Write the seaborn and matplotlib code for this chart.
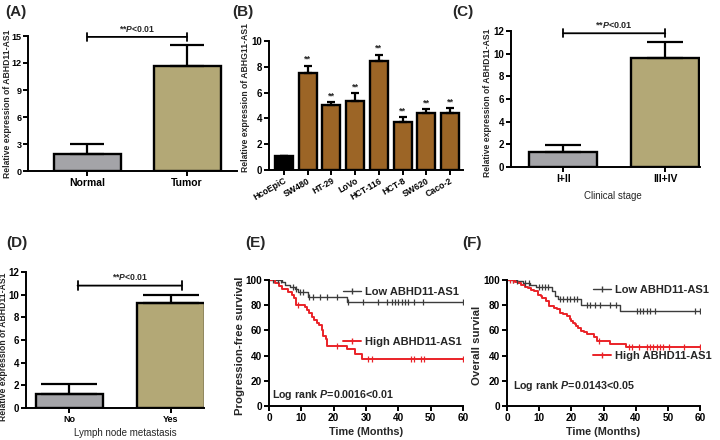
import numpy as np
import pandas as pd
import matplotlib
matplotlib.use("Agg")
import matplotlib.pyplot as plt
import seaborn as sns
from matplotlib.lines import Line2D

# ------------------------------
# Data
# ------------------------------
tissue = ["Normal", "Tumor"]
tissue_mean = [1.9, 11.7]
tissue_sd = [1.05, 2.3]

cell_lines = ["HcoEpiC", "SW480", "HT-29", "LoVo", "HCT-116", "HCT-8", "SW620", "Caco-2"]
cell_mean = [1.05, 7.5, 5.05, 5.35, 8.45, 3.7, 4.45, 4.45]
cell_sd = [0.07, 0.6, 0.2, 0.6, 0.5, 0.4, 0.25, 0.35]

stage = ["I+II", "III+IV"]
stage_mean = [1.35, 9.65]
stage_sd = [0.6, 1.35]

lymph = ["No", "Yes"]
lymph_mean = [1.25, 9.25]
lymph_sd = [0.85, 0.7]

# Kaplan-Meier step points (time in months, survival %)
pfs_low_t = [0, 4, 5, 6.5, 8, 9, 12, 24, 60]
pfs_low_s = [100, 98.2, 96.4, 94.6, 92.8, 90.2, 86.2, 82.2, 82.2]
pfs_low_cens = [1.2, 2.8, 3.6, 7.4, 8.5, 9.5, 10.5, 12.5, 13.6, 15.7, 17.8, 20.9,
                24.5, 29, 33.8, 36.4, 38, 39, 40, 41, 42, 43, 44.7, 47.6, 60]

pfs_high_t = [0, 2, 3, 4, 6, 7, 7.8, 8.2, 11.1, 11.9, 12.5, 13.2, 14, 14.7, 15.5,
              16.3, 16.8, 17.5, 18, 24, 26.6, 28.7, 60]
pfs_high_s = [100, 97.5, 95, 92.5, 90.5, 88, 85.5, 80, 78.5, 76, 73.5, 71, 68, 66, 64,
              60, 55.5, 53.5, 47.8, 45, 41.5, 37.2, 37.2]
pfs_high_cens = [9, 20.9, 30.7, 32, 43.8, 44.8, 46.9, 48, 60]

os_low_t = [0, 3, 5, 7, 9, 14, 15, 16, 23, 35, 60]
os_low_s = [100, 99, 97.8, 96.4, 94.5, 91, 87.5, 84.9, 80.2, 75.7, 75.7]
os_low_cens = [2, 3.1, 5.7, 6.7, 9.8, 10.9, 11.9, 12.9, 16.5, 17.5, 18.6, 19.6, 20.7, 21.7,
               24.8, 25.9, 27.4, 29, 32, 34, 40.3, 41.4, 42.4, 43.4, 44.5, 46, 58.4, 60]

os_high_t = [0, 2.5, 3.5, 4.5, 5.5, 6.5, 7.5, 8.5, 9.5, 10.5, 11, 12, 13, 14.5, 15.5, 16.5,
             17.5, 18.5, 19.5, 20, 20.5, 21, 21.5, 22, 23, 24, 25, 27, 28, 32, 37, 60]
os_high_s = [100, 98.7, 97.4, 96.1, 94.8, 93.5, 92.2, 90.9, 88.3, 87, 85.7, 83.1, 79.2,
             77.9, 76.6, 74, 72.7, 71.4, 68.8, 67.5, 66.2, 64.9, 63.6, 62.3, 59.7, 58.4,
             57.1, 54.5, 51.9, 49.3, 47, 47]
os_high_cens = [1, 2, 28.5, 38, 39, 41, 43.5, 44.5, 45.5, 46.5, 47.5, 48.5, 50.5, 55, 60]

# colours
GRAY = "#a4a4a8"
TAN = "#b3a876"
BROWN = "#9c6526"
LOW_C = "#3c3c3c"
HIGH_C = "#ea2228"

# ------------------------------
# Style
# ------------------------------
sns.set_style("ticks")
plt.rcParams["font.family"] = ["Liberation Sans", "DejaVu Sans"]
plt.rcParams["font.weight"] = "bold"
plt.rcParams["mathtext.fontset"] = "custom"
plt.rcParams["mathtext.it"] = "Liberation Sans:italic:bold"
plt.rcParams["mathtext.rm"] = "Liberation Sans:bold"

W, H = 720, 440
fig = plt.figure(figsize=(7.2, 4.4), dpi=100)


def px_axes(l, t, r, b):
    return fig.add_axes([l / W, 1 - b / H, (r - l) / W, (b - t) / H])


def style_axes(ax, size=7):
    sns.despine(ax=ax)
    for sp in ["left", "bottom"]:
        ax.spines[sp].set_linewidth(1.4)
        ax.spines[sp].set_color("black")
    ax.tick_params(width=1.4, length=3.5, labelsize=size, colors="black", pad=1.5)


def bar_panel(ax, cats, means, sds, colors, width, capsize, ylim, yticks, xlim):
    df = pd.DataFrame({"cat": cats, "val": means})
    sns.barplot(data=df, x="cat", y="val", hue="cat", palette=colors, legend=False,
                width=width, saturation=1, edgecolor="black", linewidth=1.7, ax=ax)
    ax.errorbar(x=np.arange(len(cats)), y=means, yerr=[np.zeros(len(cats)), sds],
                fmt="none", ecolor="black", elinewidth=1.6, capsize=capsize, capthick=1.6)
    ax.set_ylim(*ylim)
    ax.set_yticks(yticks)
    ax.set_xlim(*xlim)
    ax.set_xlabel("")
    ax.set_ylabel("")
    style_axes(ax)


def bracket(ax, x0, x1, y, ty, tx, size=6.2):
    ax.annotate("", xy=(x0, y), xytext=(x1, y),
                arrowprops=dict(arrowstyle="|-|, widthA=0.3, widthB=0.3", lw=1.3, color="black",
                                shrinkA=0, shrinkB=0), annotation_clip=False)
    ax.text(tx, ty, "**$P$<0.01", ha="center", va="center", fontsize=size, clip_on=False)


def ylab(ax, text, x, y, size=6.2):
    ax.set_ylabel(text, fontsize=size, fontweight="bold")
    ax.yaxis.set_label_coords(x, y)


# ------------------------------
# (A) tissues
# ------------------------------
axA = px_axes(28, 36, 237, 171)
bar_panel(axA, tissue, tissue_mean, tissue_sd, [GRAY, TAN], 0.67, 12,
          (0, 15), [0, 3, 6, 9, 12, 15], (-0.595, 1.5))
axA.tick_params(axis="y", labelsize=6.5, pad=1)
axA.tick_params(axis="x", labelsize=7.5)
bracket(axA, 0, 1, 14.9, 15.8, 0.5)
ylab(axA, "Relative expression of ABHD11-AS1", -0.075, 0.5)

# ------------------------------
# (B) cell lines
# ------------------------------
axB = px_axes(269, 41, 463, 170)
bar_panel(axB, cell_lines, cell_mean, cell_sd, ["black"] + [BROWN] * 7, 0.76, 3,
          (0, 10), [0, 2, 4, 6, 8, 10], (-0.63, 7.55))
axB.tick_params(axis="x", labelsize=6.3, pad=1)
for lab in axB.get_xticklabels():
    lab.set_rotation(30)
    lab.set_ha("right")
    lab.set_rotation_mode("anchor")
for i in range(1, len(cell_lines)):
    axB.text(i, cell_mean[i] + cell_sd[i] + 0.15, "**", ha="center", va="bottom", fontsize=6.5)
ylab(axB, "Relative expression of ABHG11-AS1", -0.098, 0.56)

# ------------------------------
# (C) clinical stage
# ------------------------------
axC = px_axes(511, 31, 700, 167)
bar_panel(axC, stage, stage_mean, stage_sd, [GRAY, TAN], 0.67, 13,
          (0, 12), [0, 2, 4, 6, 8, 10, 12], (-0.51, 1.34))
axC.tick_params(axis="x", labelsize=7.5)
bracket(axC, 0, 1, 11.8, 12.5, 0.5, size=6.5)
ylab(axC, "Relative expression of ABHD11-AS1", -0.1, 0.47)
axC.set_xlabel("Clinical stage", fontsize=7, fontweight="normal")
axC.xaxis.set_label_coords(0.54, -0.18)

# ------------------------------
# (D) lymph node metastasis
# ------------------------------
axD = px_axes(26, 272, 204, 408)
bar_panel(axD, lymph, lymph_mean, lymph_sd, [GRAY, TAN], 0.67, 20,
          (0, 12), [0, 2, 4, 6, 8, 10, 12], (-0.43, 1.33))
axD.tick_params(axis="x", labelsize=6.5)
bracket(axD, 0.08, 1.11, 10.8, 11.6, 0.6)
ylab(axD, "Relative expression of ABHD11-AS1", -0.101, 0.45)
axD.set_xlabel("Lymph node metastasis", fontsize=7, fontweight="normal")
axD.xaxis.set_label_coords(0.56, -0.145)


# ------------------------------
# (E) / (F) Kaplan-Meier curves
# ------------------------------
def km_curve(ax, t, s, cens, color, lw):
    df = pd.DataFrame({"t": t, "s": s})
    sns.lineplot(data=df, x="t", y="s", drawstyle="steps-post", estimator=None, sort=False,
                 color=color, lw=lw, ax=ax)
    cy = np.asarray(s)[np.searchsorted(t, cens, side="right") - 1]
    sns.scatterplot(x=cens, y=cy, marker="|", s=14, color=color, edgecolor=color,
                    linewidth=0.9, ax=ax, zorder=3)


def km_panel(ax, low, high, ylabel, ylx, logtext, logpos, low_leg, high_leg):
    km_curve(ax, *low, LOW_C, 1.0)
    km_curve(ax, *high, HIGH_C, 1.4)
    ax.set_xlim(0, 60)
    ax.set_ylim(0, 100)
    ax.set_xticks(range(0, 61, 10))
    ax.set_yticks(range(0, 101, 20))
    style_axes(ax, 7.2)
    ax.set_xlabel("Time (Months)", fontsize=7.8, fontweight="bold")
    ax.xaxis.set_label_coords(0.5, -0.165)
    ylab(ax, ylabel, ylx, 0.48, size=8.2)
    ax.text(logpos[0], logpos[1], logtext, fontsize=7.7, va="center", ha="left")
    h_low = Line2D([], [], color=LOW_C, lw=1.0, marker="|", markersize=4)
    h_high = Line2D([], [], color=HIGH_C, lw=1.4, marker="|", markersize=4)
    kw = dict(loc="center left", frameon=False, fontsize=8.0, handlelength=1.6,
              handletextpad=0.35, borderpad=0, borderaxespad=0, numpoints=1)
    leg1 = ax.legend([h_low], ["Low ABHD11-AS1"], bbox_to_anchor=low_leg, **kw)
    ax.add_artist(leg1)
    ax.legend([h_high], ["High ABHD11-AS1"], bbox_to_anchor=high_leg, **kw)


axE = px_axes(269, 280, 463, 406)
km_panel(axE, (pfs_low_t, pfs_low_s, pfs_low_cens), (pfs_high_t, pfs_high_s, pfs_high_cens),
         "Progression-free survival", -0.124, "Log rank $P$=0.0016<0.01", (1, 8.5),
         (0.383, 0.907), (0.383, 0.505))

axF = px_axes(507, 280, 700, 406)
km_panel(axF, (os_low_t, os_low_s, os_low_cens), (os_high_t, os_high_s, os_high_cens),
         "Overall survial", -0.13, "Log rank $P$=0.0143<0.05", (1.9, 16),
         (0.448, 0.92), (0.448, 0.397))

# panel letters
for lab, x, y in [("(A)", 5, 12), ("(B)", 232, 12), ("(C)", 452, 12),
                  ("(D)", 6, 243), ("(E)", 245, 243), ("(F)", 462, 243)]:
    fig.text(x / W, 1 - y / H, lab, fontsize=11, fontweight="bold", va="center", ha="left")

fig.savefig("out.png", dpi=100)
